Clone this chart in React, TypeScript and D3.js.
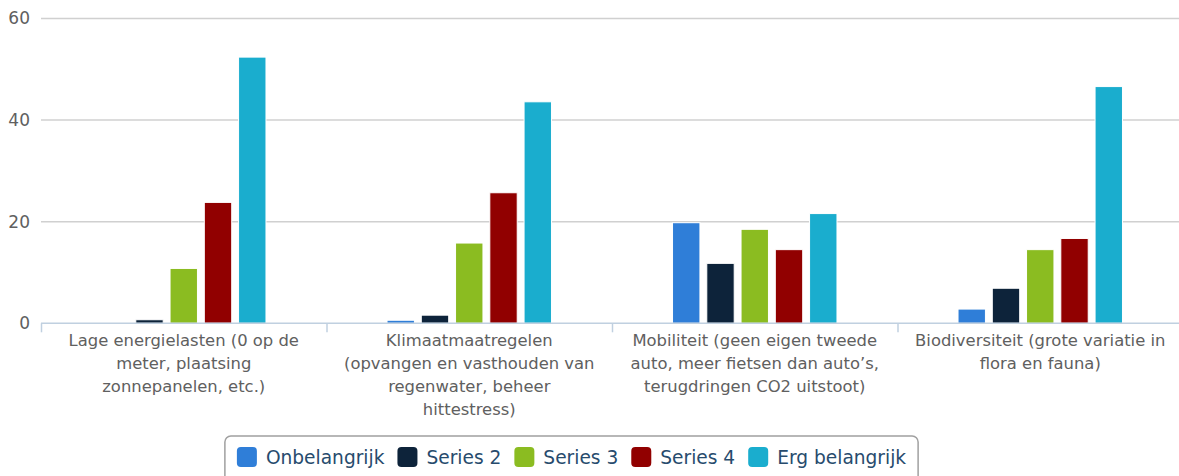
import { scaleBand, scaleLinear } from "d3";

const categories = [
  ["Lage energielasten (0 op de", "meter, plaatsing", "zonnepanelen, etc.)"],
  ["Klimaatmaatregelen", "(opvangen en vasthouden van", "regenwater, beheer", "hittestress)"],
  ["Mobiliteit (geen eigen tweede", "auto, meer fietsen dan auto’s,", "terugdringen CO2 uitstoot)"],
  ["Biodiversiteit (grote variatie in", "flora en fauna)"],
];
const seriesNames = ["Onbelangrijk", "Series 2", "Series 3", "Series 4", "Erg belangrijk"];
const seriesColors = ["#2f7ed8", "#0d233a", "#8bbc21", "#910000", "#1aadce"];
const onbelangrijk = [0, 0.6, 19.8, 2.8];
const series2 = [0.7, 1.6, 11.8, 6.9];
const series3 = [10.8, 15.8, 18.5, 14.5];
const series4 = [23.8, 25.7, 14.5, 16.7];
const ergBelangrijk = [52.4, 43.6, 21.6, 46.6];
const seriesValues = [onbelangrijk, series2, series3, series4, ergBelangrijk];
const yTicks = [0, 20, 40, 60];

const width = 1179;
const height = 476;
const plot = { left: 41, right: 1183, top: 18.5, bottom: 323.3 };
const labelFont = "DejaVu Sans, sans-serif";

const measure = (text: string, font: string) => {
  const ctx = document.createElement("canvas").getContext("2d");
  if (!ctx) return text.length * 9;
  ctx.font = font;
  return ctx.measureText(text).width;
};

const App = () => {
  const x = scaleBand<number>()
    .domain(categories.map((_, i) => i))
    .range([plot.left, plot.right]);
  const bw = x.bandwidth();
  const xs = scaleBand<number>()
    .domain(seriesNames.map((_, i) => i))
    .range([bw * 0.2, bw * 0.8])
    .paddingInner(0.2)
    .paddingOuter(0.1);
  const y = scaleLinear().domain([0, 60]).range([plot.bottom, plot.top]);

  // legend layout
  const legendFontSize = 18.6;
  const legendFont = `${legendFontSize}px DejaVu Sans`;
  const symbol = 20;
  const items = seriesNames.map((name) => ({ name, w: symbol + 9 + measure(name, legendFont) }));
  const gap = 13;
  const totalW = items.reduce((s, d) => s + d.w, 0) + gap * (items.length - 1);
  const legendPad = 12;
  const legendCenter = 571.5;
  let cursor = legendCenter - totalW / 2;
  const legendX = cursor - legendPad;
  const positions = items.map((d) => {
    const p = cursor;
    cursor += d.w + gap;
    return p;
  });

  return (
    <svg
      width={width}
      height={height}
      style={{ position: "absolute", left: 0, top: 0, background: "#fff" }}
    >
      {yTicks.map((t) => (
        <g key={t}>
          {t !== 0 && (
            <line x1={plot.left} x2={plot.right} y1={y(t)} y2={y(t)} stroke="#d0d0d0" strokeWidth={1.5} />
          )}
          <text
            x={30}
            y={y(t)}
            dy="0.35em"
            textAnchor="end"
            fontFamily={labelFont}
            fontSize={17}
            fill="#606060"
          >
            {t}
          </text>
        </g>
      ))}

      {seriesValues.map((vals, si) =>
        vals.map((v, ci) => (
          <rect
            key={`${si}-${ci}`}
            x={(x(ci) ?? 0) + (xs(si) ?? 0)}
            y={y(v)}
            width={xs.bandwidth()}
            height={plot.bottom - y(v)}
            fill={seriesColors[si]}
            stroke="#fff"
            strokeWidth={1}
          />
        ))
      )}

      <line x1={plot.left} x2={plot.right} y1={plot.bottom} y2={plot.bottom} stroke="#c0d0e0" strokeWidth={1.5} />
      {categories.map((_, i) => (
        <line
          key={i}
          x1={(x(i) ?? 0) + 0.5}
          x2={(x(i) ?? 0) + 0.5}
          y1={plot.bottom}
          y2={plot.bottom + 9}
          stroke="#c0d0e0"
          strokeWidth={1.5}
        />
      ))}

      {categories.map((lines, i) => (
        <text
          key={i}
          x={(x(i) ?? 0) + bw / 2}
          y={346}
          textAnchor="middle"
          fontFamily={labelFont}
          fontSize={16.4}
          fill="#606060"
        >
          {lines.map((l, j) => (
            <tspan key={j} x={(x(i) ?? 0) + bw / 2} dy={j === 0 ? 0 : 23}>
              {l}
            </tspan>
          ))}
        </text>
      ))}

      <rect
        x={legendX}
        y={436}
        width={totalW + legendPad * 2}
        height={60}
        rx={6}
        fill="#fff"
        stroke="#a0a0a0"
        strokeWidth={1.5}
      />
      {items.map((d, i) => (
        <g key={d.name} transform={`translate(${positions[i]},447)`}>
          <rect width={symbol} height={symbol} rx={4} fill={seriesColors[i]} />
          <text
            x={symbol + 9}
            y={symbol / 2}
            dy="0.35em"
            fontFamily="DejaVu Sans, sans-serif"
            fontSize={legendFontSize}
            fill="#274b6d"
          >
            {d.name}
          </text>
        </g>
      ))}
    </svg>
  );
};

export default App;
